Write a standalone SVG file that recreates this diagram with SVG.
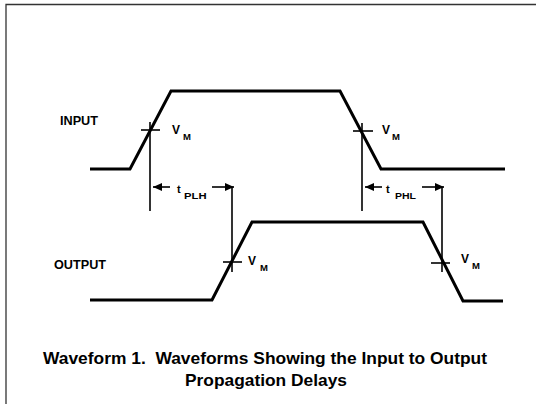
<svg xmlns="http://www.w3.org/2000/svg" width="542" height="404" viewBox="0 0 542 404">
<style>
.wave{fill:none;stroke:#000;stroke-width:3;stroke-linejoin:miter;stroke-linecap:butt}
.thin{fill:none;stroke:#000;stroke-width:1.6}
.lbl{font-family:"Liberation Sans",Arial,sans-serif;font-weight:bold;fill:#000}
.cap{font-family:"Liberation Sans",Arial,sans-serif;font-weight:bold;font-size:16.5px;fill:#000}
.v{font-size:12px}
.sub{font-size:9.5px}
.frame{fill:none;stroke:#333;stroke-width:1.3}
</style>
<defs>
<marker id="ah" viewBox="0 0 9 8" refX="9" refY="4" markerWidth="9" markerHeight="8" markerUnits="userSpaceOnUse" orient="auto">
<path d="M0,0 L9,4 L0,8 z" fill="#000"/>
</marker>
</defs>
<rect width="542" height="404" fill="#fff"/>
<g id="frame">
<path class="frame" d="M6,404 L6,4.5 L536,4.5"/>
</g>
<g id="input">
<path class="wave" d="M90,169 L130,169 L171,91 L340,91 L381,169 L505,169"/>
<text class="lbl" x="60" y="125" font-size="13.5" textLength="38" lengthAdjust="spacingAndGlyphs">INPUT</text>
</g>
<g id="output">
<path class="wave" d="M90,300 L212,300 L252,222 L423,222 L463,301 L503,301"/>
<text class="lbl" x="54" y="269" font-size="13.5" textLength="52" lengthAdjust="spacingAndGlyphs">OUTPUT</text>
</g>
<g id="vm-in-rise">
<line class="thin" x1="141" y1="130" x2="160" y2="130"/>
<text class="lbl v" x="172" y="134">V</text>
<text class="lbl sub" x="183" y="140">M</text>
</g>
<g id="vm-in-fall">
<line class="thin" x1="353" y1="131" x2="373" y2="131"/>
<text class="lbl v" x="382" y="134">V</text>
<text class="lbl sub" x="392" y="140">M</text>
</g>
<g id="vm-out-rise">
<line class="thin" x1="223" y1="262" x2="242" y2="262"/>
<text class="lbl v" x="248" y="265">V</text>
<text class="lbl sub" x="260" y="271">M</text>
</g>
<g id="vm-out-fall">
<line class="thin" x1="431" y1="263" x2="450" y2="263"/>
<text class="lbl v" x="461" y="263">V</text>
<text class="lbl sub" x="472" y="269">M</text>
</g>
<g id="tplh">
<text class="lbl" x="177" y="193" font-size="11">t</text>
<text class="lbl" x="184" y="199" font-size="9.5" textLength="22.5" lengthAdjust="spacingAndGlyphs">PLH</text>
</g>
<g id="tphl">
<text class="lbl" x="386" y="193" font-size="11">t</text>
<text class="lbl" x="395" y="199" font-size="9.5" textLength="21" lengthAdjust="spacingAndGlyphs">PHL</text>
</g>
<g id="connectors">
<line class="thin" x1="150" y1="122" x2="150" y2="211"/>
<line class="thin" x1="232" y1="187" x2="232" y2="272"/>
<line class="thin" x1="362" y1="123" x2="362" y2="211"/>
<line class="thin" x1="442" y1="187" x2="442" y2="272"/>
<line class="thin" x1="170" y1="187" x2="153" y2="187" marker-end="url(#ah)"/>
<line class="thin" x1="212" y1="187" x2="234" y2="187" marker-end="url(#ah)"/>
<line class="thin" x1="382" y1="187" x2="365" y2="187" marker-end="url(#ah)"/>
<line class="thin" x1="422" y1="187" x2="444" y2="187" marker-end="url(#ah)"/>
</g>
<g id="caption">
<text class="cap" x="43" y="364" textLength="444" lengthAdjust="spacingAndGlyphs" xml:space="preserve">Waveform 1.  Waveforms Showing the Input to Output</text>
<text class="cap" x="185" y="386" textLength="162" lengthAdjust="spacingAndGlyphs">Propagation Delays</text>
</g>
</svg>
